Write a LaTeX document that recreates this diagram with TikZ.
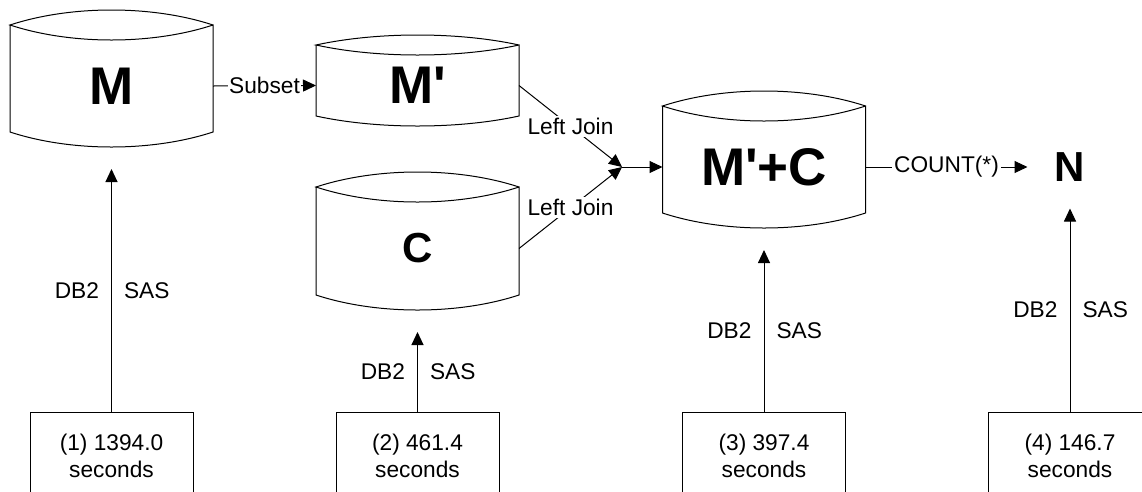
\documentclass[tikz,border=0pt]{standalone}
\usepackage{fontspec}
\setmainfont{Liberation Sans}[Ligatures=TeXOff]
\usepackage{tikz}
\usetikzlibrary{arrows.meta}
\usetikzlibrary{calc}

% outline of a drum: #1 node, #2 bulge of the arcs
\newcommand{\drumedge}[2]{%
  \draw (#1.north west) -- ($(#1.south west)+(0,-#2)$)
    .. controls ($(#1.south west)!0.3!(#1.south east)+(0,#2/3)$) and ($(#1.south west)!0.7!(#1.south east)+(0,#2/3)$) .. ($(#1.south east)+(0,-#2)$)
    -- (#1.north east)
    .. controls ($(#1.north west)!0.7!(#1.north east)+(0,4*#2/3)$) and ($(#1.north west)!0.3!(#1.north east)+(0,4*#2/3)$) .. (#1.north west)
    .. controls ($(#1.north west)!0.3!(#1.north east)+(0,-4*#2/3)$) and ($(#1.north west)!0.7!(#1.north east)+(0,-4*#2/3)$) .. (#1.north east);
}

\begin{document}
\begin{tikzpicture}[x=1pt, y=-1pt, line width=1pt, >={Triangle[length=13pt,width=12pt]},
  drum/.style={rectangle, inner sep=0pt, outer sep=0pt, minimum width=203pt, font=\fontsize{53}{60}\selectfont\bfseries},
  lbl/.style={font=\fontsize{22.7}{27}\selectfont},
  timebox/.style={draw, lbl, align=center, minimum width=163pt, minimum height=88pt, inner sep=0pt},
  onpath/.style={lbl, fill=white, inner sep=2pt}]
\useasboundingbox (0,0) rectangle (1142,491);

%tables
\node[drum, minimum height=122pt] (M) at (111.5, 86) {M};
\node[drum, minimum height=81pt] (Mp) at (417.5, 85.5) {M'};
\node[drum, minimum height=123pt, font=\fontsize{42}{48}\selectfont\bfseries] (C) at (417.5, 248.5) {C};
\node[drum, minimum height=122pt] (MC) at (764, 167) {M'+C};
\node[inner sep=0pt, minimum width=84pt, minimum height=38pt, font=\fontsize{42}{48}\selectfont\bfseries] (N) at (1070, 167) {N};
\drumedge{M}{15}
\drumedge{Mp}{10}
\drumedge{C}{15}
\drumedge{MC}{15}

%queries
\coordinate (join) at (622, 167);
\draw[->] (M.east) -- node[onpath, inner sep=1pt] (subset) {Subset} (Mp.west);
\draw[->] (Mp.east) -- node[onpath] (lj1) {Left Join} (join);
\draw[->] (C.east) -- node[onpath] (lj2) {Left Join} (join);
\draw[->] (join) -- (MC.west);
\draw[->] (MC.east) -- node[onpath] (count) {COUNT(*)} (N.west);

%timings
\foreach \i/\x/\t in {1/111.5/1394.0, 2/417.5/461.4, 3/764/397.4, 4/1070/146.7}
  \node[timebox] (t\i) at (\x, 456) {(\i) \t\\seconds};
\foreach \i/\dst in {1/M, 2/C, 3/MC, 4/N}
  \draw[->] (t\i.north) -- node[lbl, left, inner sep=12pt] (db\i) {DB2}
    node[lbl, right, inner sep=12pt] (sas\i) {SAS} ($(\dst.south)+(0,22)$);
\end{tikzpicture}
\end{document}
